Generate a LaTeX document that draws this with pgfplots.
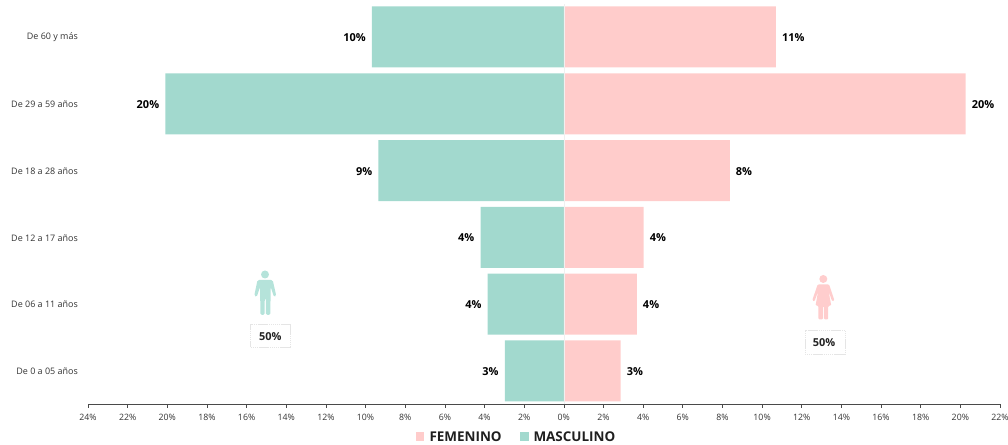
\documentclass[border=0pt]{standalone}
\usepackage{pgfplots}
\pgfplotsset{compat=1.18}
\usepackage{fontspec}
\setmainfont{Open Sans}
\definecolor{hombre}{HTML}{A2D9CE}
\definecolor{mujer}{HTML}{FFCCCB}
\definecolor{hombreclaro}{HTML}{B5E3DA}
\definecolor{mujerclaro}{HTML}{FFCDCD}
\definecolor{eje}{HTML}{4A4A4A}
\definecolor{texto}{HTML}{333333}
\begin{document}
\begin{tikzpicture}[x=1bp,y=1bp]
\useasboundingbox (0,0) rectangle (1008,445);
\begin{axis}[
  at={(88bp,40.6bp)}, anchor=south west,
  scale only axis, width=912bp, height=400.8bp,
  xmin=-24, xmax=22, ymin=-0.5, ymax=5.5,
  axis x line=bottom, axis y line=none,
  axis line style={eje,line width=0.7pt,-},
  xbar=0pt, bar width=61bp, bar shift=0pt,
  clip=false,
  xtick={-24,-22,...,22},
  xticklabels={24\%,22\%,20\%,18\%,16\%,14\%,12\%,10\%,8\%,6\%,4\%,2\%,0\%,2\%,4\%,6\%,8\%,10\%,12\%,14\%,16\%,18\%,20\%,22\%},
  xticklabel style={font=\fontsize{8.8}{10}\selectfont,text=texto,yshift=-3.2bp},
  tick style={eje,line width=0.6pt},
  tick align=outside, major tick length=3.5bp,
  point meta=explicit symbolic,
  nodes near coords={\pgfplotspointmeta},
  every node near coord/.append style={font=\fontsize{11}{12}\selectfont\bfseries,text=black,inner sep=0pt,yshift=-0.5bp},
]
% Hombres, hacia la izquierda
\addplot[fill=hombre,draw=none,every node near coord/.append style={anchor=east,xshift=-6bp}] coordinates {
  (-2.98,0)[3\%] (-3.84,1)[4\%] (-4.20,2)[4\%] (-9.35,3)[9\%] (-20.10,4)[20\%] (-9.68,5)[10\%]
};
% Mujeres, hacia la derecha
\addplot[fill=mujer,draw=none,every node near coord/.append style={anchor=west,xshift=6bp}] coordinates {
  (2.87,0)[3\%] (3.68,1)[4\%] (4.03,2)[4\%] (8.37,3)[8\%] (20.27,4)[20\%] (10.70,5)[11\%]
};
\draw[black!6,line width=0.6pt] (axis cs:0,-0.5) -- (axis cs:0,5.5);
\end{axis}
% Grupos de edad
\foreach \t/\yy in {De 60 y más/37.4,De 29 a 59 años/104,De 18 a 28 años/171,De 12 a 17 años/237.8,De 06 a 11 años/304.6,De 0 a 05 años/371.5}
  \node[anchor=east,inner sep=0pt,font=\fontsize{9}{10}\selectfont,text=texto] at (78,445-\yy) {\t};
% Figuras y recuadros de porcentaje total
\begin{scope}[shift={(0,445)},y=-1bp]
  \fill[hombreclaro] (265,274.5) circle (4);
  \fill[hombreclaro,rounded corners=1.5] (257.5,280) -- (272.7,280) -- (276.3,296) -- (274,297) -- (270.7,287) -- (270.3,315) -- (266,315) -- (265.8,298) -- (264.8,298) -- (264.5,315) -- (260.5,315) -- (260,287) -- (256.7,297) -- (254.2,296) -- cycle;
  \fill[mujerclaro] (823.3,279) circle (4);
  \fill[mujerclaro,rounded corners=1.2] (817.7,284.3) -- (829,284.3) -- (834.5,300.5) -- (832.2,301.5) -- (828.5,291) -- (831.3,305.7) -- (828.2,305.7) -- (828.2,319.5) -- (824,319.5) -- (824,306) -- (823,306) -- (823,319.5) -- (818.4,319.5) -- (818.4,305.7) -- (815.5,305.7) -- (818.2,291) -- (814.5,301.5) -- (812.2,300.5) -- cycle;
  \draw[black!10,dash pattern=on 1.5pt off 0.6pt,line width=0.7pt] (250.7,324.3) rectangle (290.7,347.3);
  \draw[black!10,dash pattern=on 1.5pt off 0.6pt,line width=0.7pt] (805,330.7) rectangle (845.7,354);
  \node[font=\fontsize{11}{12}\selectfont\bfseries,inner sep=0pt,text=texto!70!black] at (270.2,336.4) {50\%};
  \node[font=\fontsize{11}{12}\selectfont\bfseries,inner sep=0pt,text=texto!70!black] at (824,342.6) {50\%};
  % Leyenda
  \fill[mujer] (415.7,432.3) rectangle (424.4,441);
  \fill[hombre] (520,432.3) rectangle (528.7,441);
  \node[anchor=west,inner sep=0pt,font=\fontsize{13.5}{15}\selectfont\bfseries,text=texto!60!black] at (429.3,436.5) {FEMENINO};
  \node[anchor=west,inner sep=0pt,font=\fontsize{13.5}{15}\selectfont\bfseries,text=texto!60!black] at (533.3,436.5) {MASCULINO};
\end{scope}
\end{tikzpicture}
\end{document}
